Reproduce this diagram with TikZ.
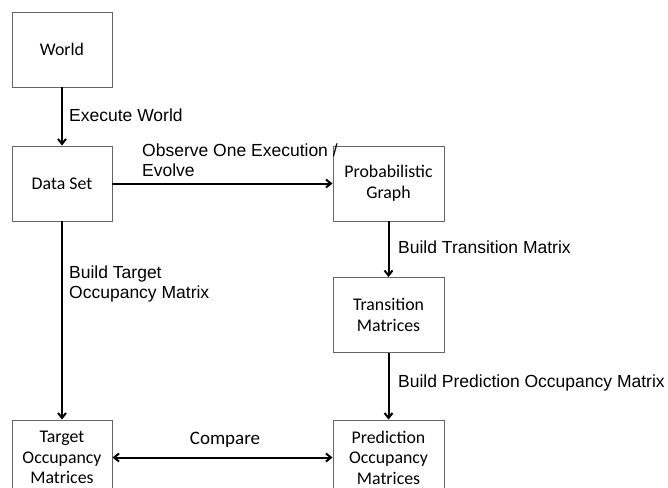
\documentclass[tikz,border=0pt]{standalone}
\usepackage{fontspec}
\setmainfont{Liberation Sans}
\newfontfamily\boxfont{Carlito}
\usetikzlibrary{arrows.meta}

\begin{document}
\begin{tikzpicture}[x=1pt, y=-1pt, >={Straight Barb[length=5pt,width=8pt]},
  stagebox/.style={draw=black!60, line width=0.9pt, minimum width=100pt, minimum height=75pt,
    align=center, font=\boxfont\fontsize{17.8}{20.5}\selectfont, inner sep=0pt},
  flow/.style={->, line width=2pt},
  steplabel/.style={align=left, anchor=west, font=\fontsize{17.5}{20}\selectfont, inner sep=0pt}]
\useasboundingbox (0,0) rectangle (668,487);
% boxes
\node[stagebox] (world) at (62,49.5) {World};
\node[stagebox] (data) at (62,183.5) {Data Set};
\node[stagebox, minimum width=111pt] (graph) at (388.5,183.5) {Probabilistic\\Graph};
\node[stagebox, minimum width=111pt] (trans) at (388.5,315) {Transition\\Matrices};
\node[stagebox] (target) at (62,457.5) {Target\\Occupancy\\Matrices};
\node[stagebox, minimum width=111pt] (pred) at (388.5,457.5) {Prediction\\Occupancy\\Matrices};
% connectors
\draw[flow] (world) -- (data);
\draw[flow] (data) -- (graph);
\draw[flow] (graph) -- (trans);
\draw[flow] (data) -- (target);
\draw[flow] (trans) -- (pred);
\draw[flow, <->] (target) -- (pred);
% labels
\node[steplabel] (lblexec) at (69,115) {Execute World};
\node[steplabel] (lblobs) at (142,160) {Observe One Execution /\\Evolve};
\node[steplabel] (lbltrans) at (398,247) {Build Transition Matrix};
\node[steplabel] (lbltarget) at (69,284) {Build Target\\Occupancy Matrix};
\node[steplabel] (lblpred) at (398,383) {Build Prediction Occupancy Matrix};
\node[font=\boxfont\fontsize{19}{20}\selectfont, inner sep=0pt] (lblcmp) at (225,440) {Compare};
\end{tikzpicture}
\end{document}
